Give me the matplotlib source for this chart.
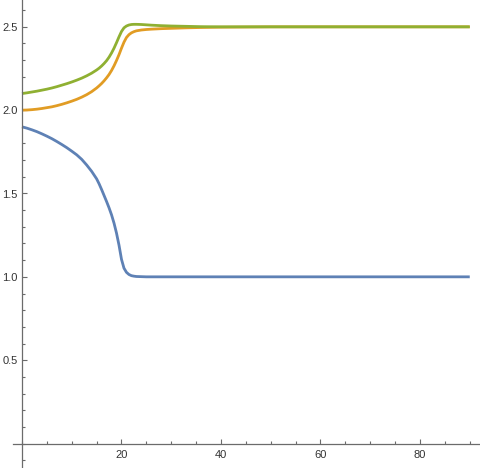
import numpy as np
import matplotlib.pyplot as plt
from matplotlib.ticker import MultipleLocator, FixedLocator

plt.rcParams['font.family'] = ['Liberation Sans', 'DejaVu Sans']

# values
x_vals = [0, 1, 2, 3, 4, 5, 6, 7, 8, 9, 10, 11, 12, 13, 14,
          15, 15.5, 16, 16.5, 17, 17.5, 18, 18.5, 19, 19.5, 20, 20.5, 21, 21.5, 22, 22.5, 23,
          24, 25, 26, 28, 30, 33, 36, 40, 45, 50, 70, 90]
blue_vals = [1.900, 1.892, 1.882, 1.871, 1.858, 1.844, 1.829, 1.812, 1.794, 1.775, 1.754,
             1.732, 1.705, 1.671, 1.633,
             1.588, 1.558, 1.524, 1.488, 1.452, 1.414, 1.372, 1.322, 1.262, 1.190, 1.105,
             1.052, 1.027, 1.014, 1.007, 1.004, 1.002,
             1.001, 1.0, 1.0, 1.0, 1.0, 1.0, 1.0, 1.0, 1.0, 1.0, 1.0, 1.0]
orange_vals = [2.000, 2.001, 2.003, 2.006, 2.010, 2.015, 2.020, 2.027, 2.035, 2.044, 2.054,
               2.065, 2.078, 2.093, 2.111,
               2.133, 2.146, 2.160, 2.176, 2.194, 2.214, 2.238, 2.266, 2.298, 2.333, 2.372,
               2.408, 2.436, 2.453, 2.464, 2.471, 2.476,
               2.481, 2.484, 2.486, 2.489, 2.491, 2.494, 2.496, 2.498, 2.499, 2.5, 2.5, 2.5]
green_vals = [2.100, 2.104, 2.109, 2.114, 2.120, 2.126, 2.133, 2.141, 2.150, 2.159, 2.169,
              2.180, 2.192, 2.206, 2.222,
              2.241, 2.252, 2.265, 2.280, 2.297, 2.318, 2.343, 2.372, 2.405, 2.440, 2.472,
              2.494, 2.505, 2.511, 2.514, 2.515, 2.515,
              2.514, 2.512, 2.510, 2.507, 2.505, 2.503, 2.501, 2.5, 2.5, 2.5, 2.5, 2.5]

x_major = [20, 40, 60, 80]
y_major = [0.5, 1.0, 1.5, 2.0, 2.5]

fig = plt.figure(figsize=(4.8, 4.68), dpi=100)
ax = fig.add_axes([0, 0, 1, 1])

ax.plot(x_vals, blue_vals, color='#5E81B5', lw=2.0, solid_capstyle='butt')
ax.plot(x_vals, orange_vals, color='#E19C24', lw=2.0, solid_capstyle='butt')
ax.plot(x_vals, green_vals, color='#8FB032', lw=2.0, solid_capstyle='butt')

ax.set_xlim(-4.42, 92.06)
ax.set_ylim(-0.147, 2.661)

axis_col = '#6b6b6b'
ax.spines['left'].set_position(('data', 0))
ax.spines['bottom'].set_position(('data', 0))
ax.spines['bottom'].set_bounds(-1.8, 92.06)
ax.spines['top'].set_visible(False)
ax.spines['right'].set_visible(False)
for s in ('left', 'bottom'):
    ax.spines[s].set_color(axis_col)
    ax.spines[s].set_linewidth(0.9)

ax.xaxis.set_major_locator(FixedLocator(x_major))
ax.xaxis.set_minor_locator(MultipleLocator(5))
ax.yaxis.set_major_locator(FixedLocator(y_major))
ax.yaxis.set_minor_locator(MultipleLocator(0.1))
ax.set_yticklabels([f'{v:.1f}' for v in y_major])

ax.tick_params(which='both', direction='in', color=axis_col, width=0.8,
               labelsize=8, labelcolor='#333333')
ax.tick_params(which='major', length=3.6)
ax.tick_params(which='minor', length=2.2)
ax.tick_params(axis='x', pad=5)
ax.tick_params(axis='y', pad=3)

fig.savefig('out.png', dpi=100)
